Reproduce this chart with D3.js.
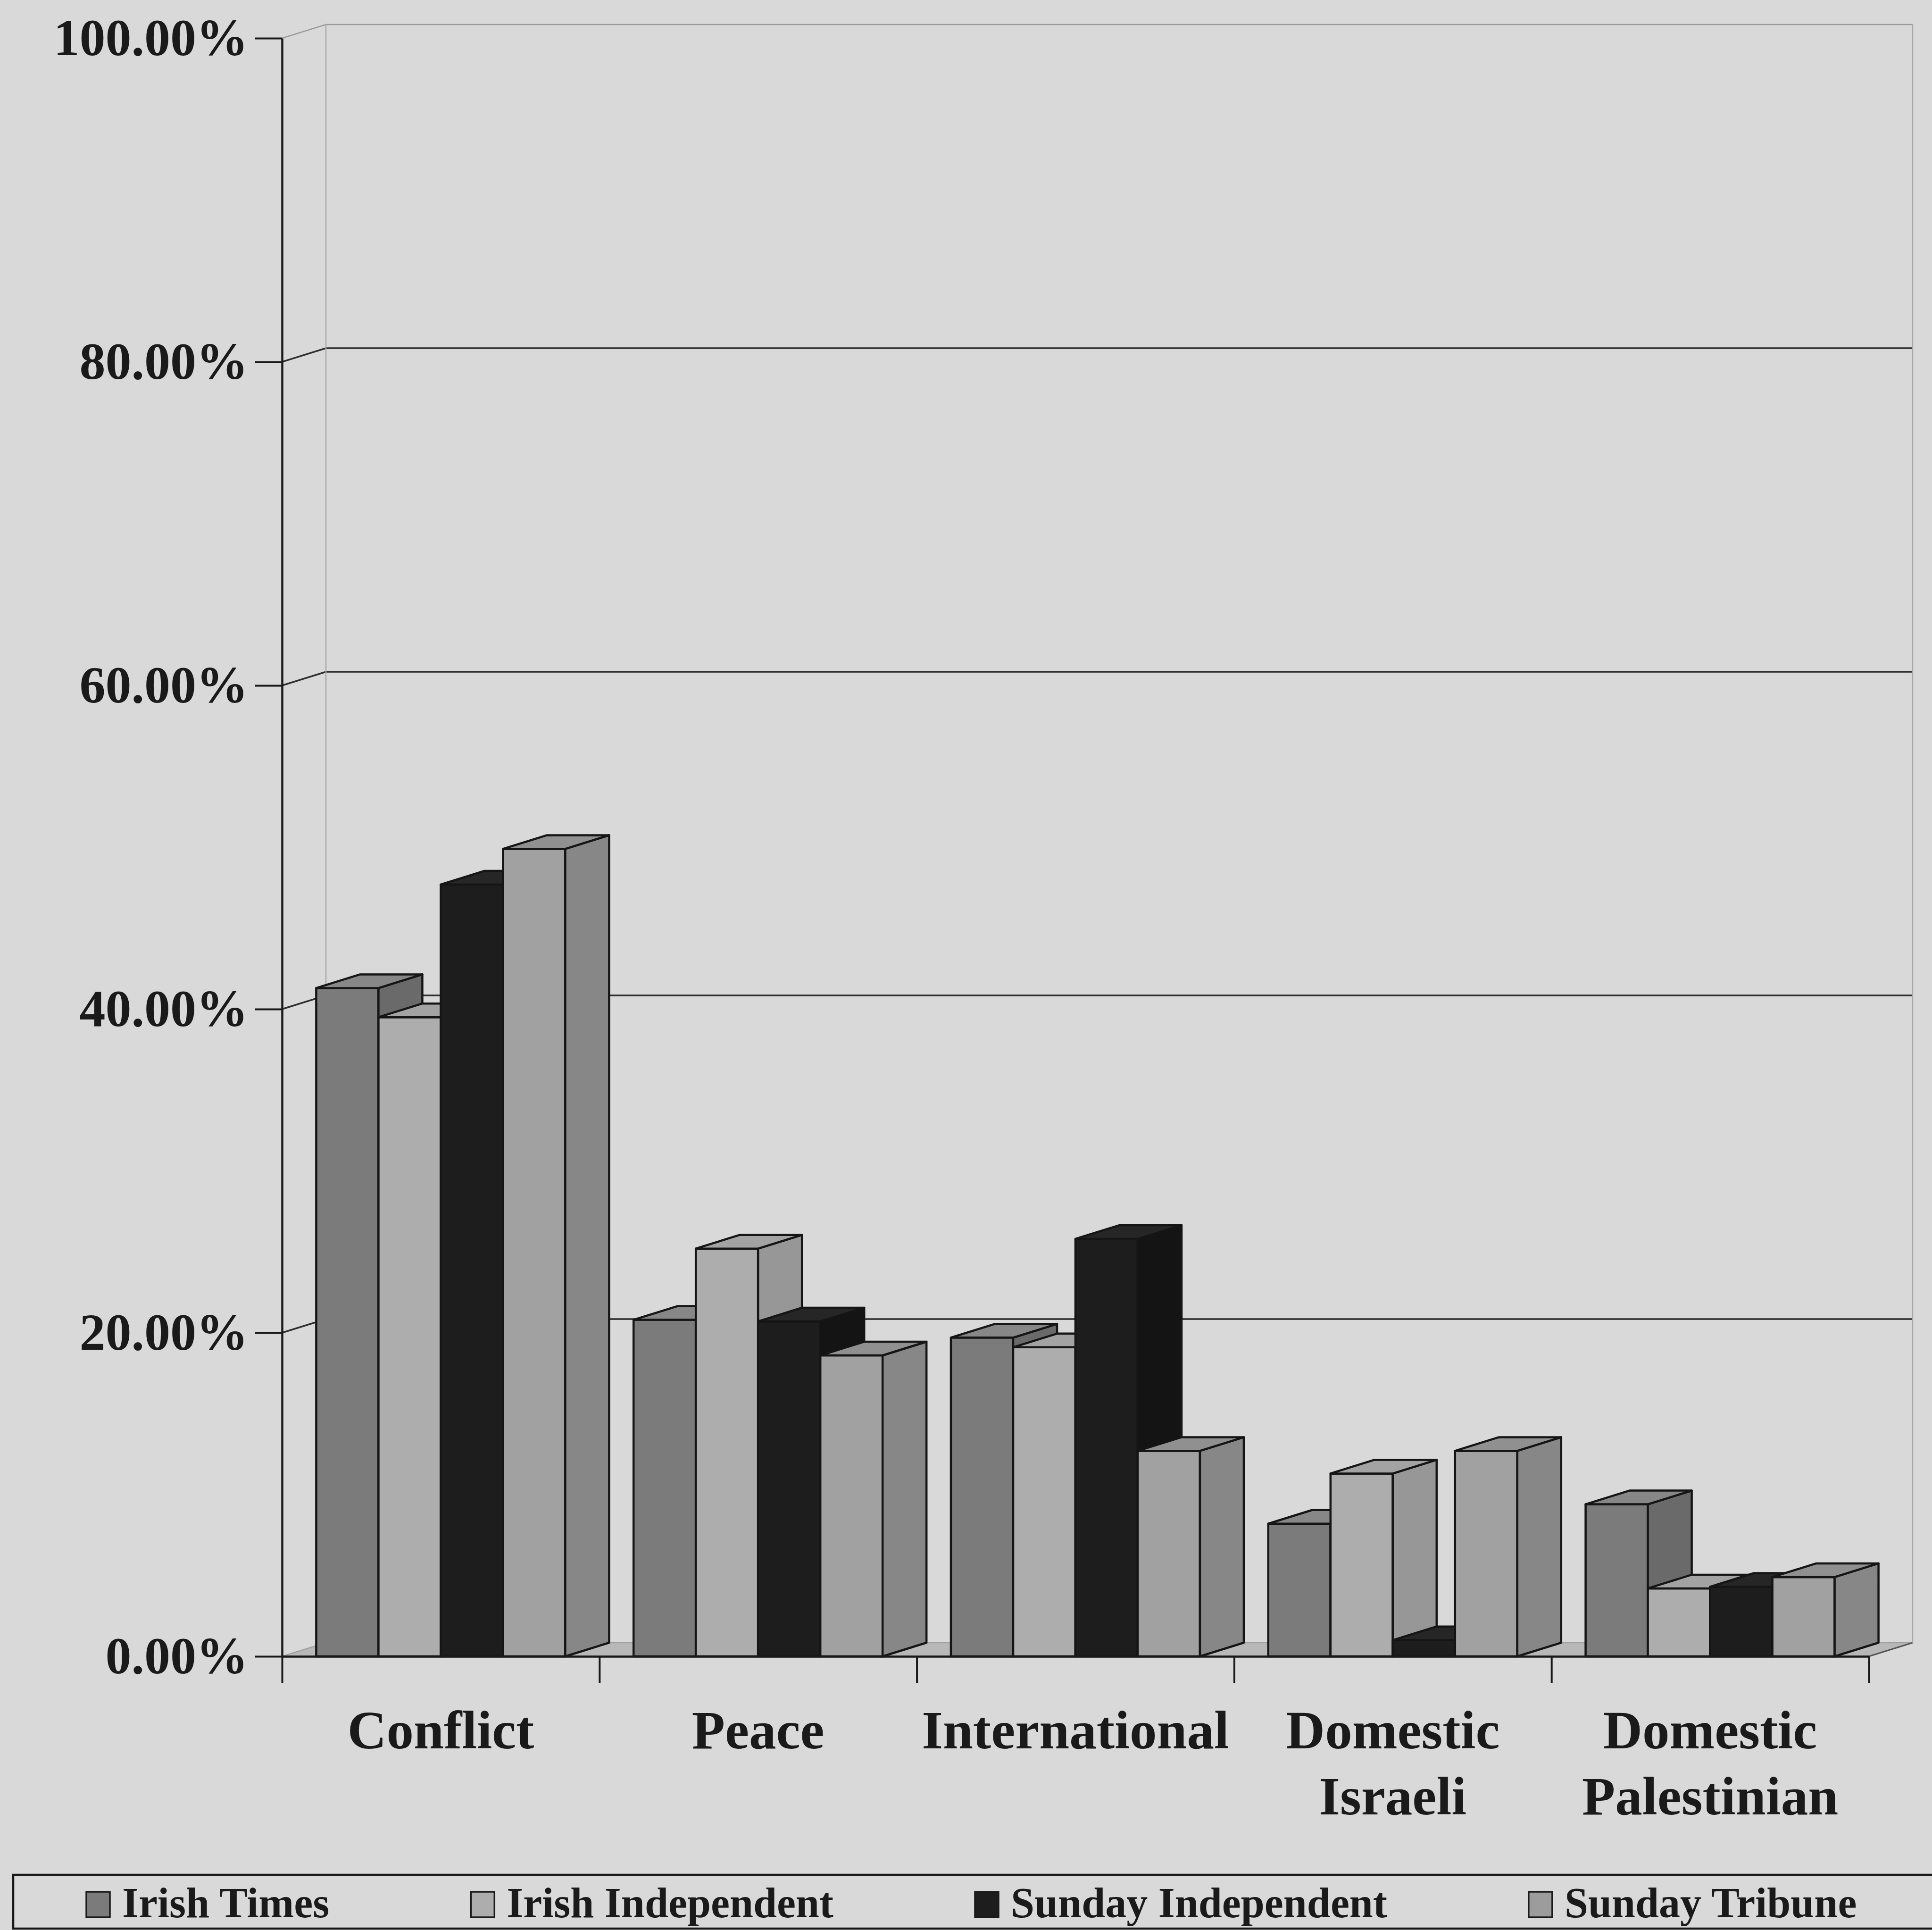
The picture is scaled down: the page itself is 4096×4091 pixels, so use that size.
<!DOCTYPE html>
<html><head><meta charset="utf-8">
<script src="https://cdn.jsdelivr.net/npm/d3@7"></script>
<style>html,body{margin:0;padding:0;background:#d9d9d9;} svg{display:block}</style>
</head><body><svg id="chart" width="4096" height="4091"></svg>
<script>
// ---------- data ----------
const categories = ["Conflict", "Peace", "International", "Domestic Israeli", "Domestic Palestinian"];
const categoryLines = [["Conflict"], ["Peace"], ["International"], ["Domestic", "Israeli"], ["Domestic", "Palestinian"]];
const seriesNames = ["Irish Times", "Irish Independent", "Sunday Independent", "Sunday Tribune"];
const irishTimes        = [0.413, 0.208, 0.197, 0.082, 0.094];
const irishIndependent  = [0.395, 0.252, 0.191, 0.113, 0.042];
const sundayIndependent = [0.477, 0.207, 0.258, 0.010, 0.043];
const sundayTribune     = [0.499, 0.186, 0.127, 0.127, 0.049];
const yTickValues = [0, 0.2, 0.4, 0.6, 0.8, 1.0];

// ---------- styles ----------
const seriesFill = [
  {front: "#7b7b7b", side: "#6a6a6a", top: "#878787"},
  {front: "#adadad", side: "#979797", top: "#a3a3a3"},
  {front: "#1d1d1d", side: "#141414", top: "#262626"},
  {front: "#a1a1a1", side: "#878787", top: "#909090"}
];
const legendFill = ["#7b7b7b", "#adadad", "#1d1d1d", "#9c9c9c"];
const ink = "#1a1a1a";
const fontFamily = "'Liberation Serif', 'Times New Roman', serif";

// ---------- layout ----------
const W = 4096, H = 4091;
const axisX = 598, xEnd = 3962;
const y0 = 3511, y100 = 81;
const dx = 93, dy = 29;
const tickLen = 57;

const svg = d3.select("#chart");
svg.append("rect").attr("width", W).attr("height", H).attr("fill", "#d9d9d9");

const x = d3.scaleBand().domain(categories).range([axisX, xEnd]).paddingInner(0).paddingOuter(0);
const xs = d3.scaleBand().domain(seriesNames).range([72.4, x.bandwidth() - 72.4]).padding(0);
const y = d3.scaleLinear().domain([0, 1]).range([y0, y100]);
const xLin = d3.scaleLinear().domain([0, categories.length]).range([axisX, xEnd]);

const seriesValues = [irishTimes, irishIndependent, sundayIndependent, sundayTribune];

// ---------- walls & floor ----------
const walls = svg.append("g");
walls.append("path")
  .attr("d", `M${axisX},${y(0)}L${xEnd},${y(0)}L${xEnd + dx},${y(0) - dy}L${axisX + dx},${y(0) - dy}Z`)
  .attr("fill", "#b8b8b8").attr("stroke", "none");
walls.append("path")
  .attr("d", `M${axisX},${y(0)}L${axisX + dx},${y(0) - dy}L${xEnd + dx},${y(0) - dy}`)
  .attr("fill", "none").attr("stroke", "#a0a0a0").attr("stroke-width", 2.5);
walls.append("path")
  .attr("d", `M${xEnd},${y(0)}L${xEnd + dx},${y(0) - dy}`)
  .attr("fill", "none").attr("stroke", "#555").attr("stroke-width", 3);

walls.selectAll("path.grid").data(yTickValues.filter(d => d > 0)).join("path")
  .attr("class", "grid")
  .attr("d", d => `M${axisX},${y(d)}L${axisX + dx},${y(d) - dy}L${xEnd + dx},${y(d) - dy}`)
  .attr("fill", "none")
  .attr("stroke", d => d === 1 ? "#9a9a9a" : "#2e2e2e")
  .attr("stroke-width", d => d === 1 ? 2.5 : 3.5);
walls.append("line")
  .attr("x1", axisX + dx).attr("x2", axisX + dx).attr("y1", y(1) - dy).attr("y2", y(0) - dy)
  .attr("stroke", "#a8a8a8").attr("stroke-width", 2.5);
walls.append("line")
  .attr("x1", xEnd + dx).attr("x2", xEnd + dx).attr("y1", y(1) - dy).attr("y2", y(0) - dy)
  .attr("stroke", "#a8a8a8").attr("stroke-width", 2.5);

// ---------- bars ----------
const bars = [];
categories.forEach((c, ci) => {
  seriesNames.forEach((s, si) => bars.push({c, s, si, v: seriesValues[si][ci]}));
});

const barG = svg.append("g")
  .attr("stroke", "#151515").attr("stroke-width", 4.5).attr("stroke-linejoin", "round");

const bg = barG.selectAll("g.bar").data(bars).join("g").attr("class", "bar");
bg.append("path")
  .attr("d", d => {
    const x0 = x(d.c) + xs(d.s), x1 = x0 + xs.bandwidth(), yt = y(d.v);
    return `M${x0},${y0}L${x0},${yt}L${x1},${yt}L${x1},${y0}Z`;
  })
  .attr("fill", d => seriesFill[d.si].front);
bg.append("path")
  .attr("d", d => {
    const x1 = x(d.c) + xs(d.s) + xs.bandwidth(), yt = y(d.v);
    return `M${x1},${yt}L${x1 + dx},${yt - dy}L${x1 + dx},${y0 - dy}L${x1},${y0}Z`;
  })
  .attr("fill", d => seriesFill[d.si].side);
bg.append("path")
  .attr("d", d => {
    const x0 = x(d.c) + xs(d.s), x1 = x0 + xs.bandwidth(), yt = y(d.v);
    return `M${x0},${yt}L${x0 + dx},${yt - dy}L${x1 + dx},${yt - dy}L${x1},${yt}Z`;
  })
  .attr("fill", d => seriesFill[d.si].top);

// ---------- axes ----------
const yAxis = d3.axisLeft(y).tickValues(yTickValues).tickFormat(d3.format(".2%"))
  .tickSize(tickLen).tickSizeOuter(0).tickPadding(15);
const gy = svg.append("g").attr("transform", `translate(${axisX},0)`).call(yAxis);
gy.select(".domain").attr("stroke", ink).attr("stroke-width", 4.5);
gy.selectAll(".tick line").attr("stroke", ink).attr("stroke-width", 4);
gy.selectAll(".tick text")
  .attr("fill", ink).attr("font-family", fontFamily).attr("font-weight", "bold")
  .attr("font-size", 110);

const xAxis = d3.axisBottom(xLin).tickValues(d3.range(0, categories.length + 1))
  .tickFormat("").tickSize(tickLen).tickSizeOuter(0);
const gx = svg.append("g").attr("transform", `translate(0,${y0})`).call(xAxis);
gx.select(".domain").attr("stroke", ink).attr("stroke-width", 4.5);
gx.selectAll(".tick line").attr("stroke", ink).attr("stroke-width", 4);

const catG = svg.append("g")
  .attr("font-family", fontFamily).attr("font-weight", "bold").attr("font-size", 115)
  .attr("fill", ink).attr("text-anchor", "middle");
catG.selectAll("text").data(categories).join("text")
  .attr("x", d => x(d) + x.bandwidth() / 2)
  .attr("y", 3706)
  .each(function(d, i) {
    d3.select(this).selectAll("tspan").data(categoryLines[i]).join("tspan")
      .attr("x", x(d) + x.bandwidth() / 2)
      .attr("dy", (t, j) => j === 0 ? 0 : 140)
      .text(t => t);
  });

// ---------- legend ----------
const leg = svg.append("g");
leg.append("rect")
  .attr("x", 28).attr("y", 3974).attr("width", 4200).attr("height", 114)
  .attr("fill", "#d9d9d9").attr("stroke", ink).attr("stroke-width", 4.5);
let lx = 183;
seriesNames.forEach((name, i) => {
  const g = leg.append("g");
  g.append("rect").attr("x", lx).attr("y", 4010).attr("width", 50).attr("height", 54)
    .attr("fill", legendFill[i]).attr("stroke", ink).attr("stroke-width", 3.5);
  const t = g.append("text").attr("x", lx + 76).attr("y", 4064)
    .attr("font-family", fontFamily).attr("font-weight", "bold").attr("font-size", 90)
    .attr("fill", ink).text(name);
  lx = lx + 76 + t.node().getComputedTextLength() + 300;
});
</script></body></html>
